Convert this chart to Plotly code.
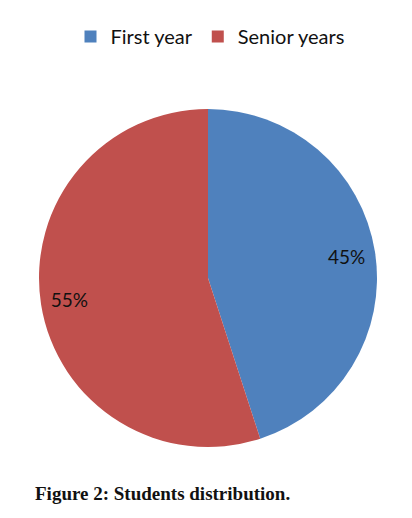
import plotly.graph_objects as go

labels = ["First year", "Senior years"]
values = [45, 55]
colors = ["#4F81BD", "#C0504D"]

# the page body adds an 8px margin, so the figure is 8px smaller and offsets are shifted
OFF = 8
W, H = 412 - OFF, 518 - OFF

pie_dom = dict(x=[(37 - OFF) / W, (379 - OFF) / W], y=[1 - (447 - OFF) / H, 1 - (109 - OFF) / H])
sans = "Lato, Open Sans, Liberation Sans, sans-serif"

fig = go.Figure()

# the coloured slices (no text)
fig.add_trace(
    go.Pie(
        labels=labels,
        values=values,
        sort=False,
        direction="clockwise",
        rotation=0,
        marker=dict(colors=colors, line=dict(width=0)),
        textinfo="none",
        domain=pie_dom,
        hoverinfo="label+percent",
    )
)

# transparent ring on top, only to push the percent labels towards the rim
fig.add_trace(
    go.Pie(
        labels=labels,
        values=values,
        sort=False,
        direction="clockwise",
        rotation=0,
        hole=0.66,
        marker=dict(colors=["rgba(0,0,0,0)", "rgba(0,0,0,0)"], line=dict(width=0)),
        texttemplate="%{percent:.0%}",
        textposition="inside",
        insidetextorientation="horizontal",
        textfont=dict(family=sans, size=19, color="#111111"),
        domain=pie_dom,
        showlegend=False,
        hoverinfo="skip",
    )
)

fig.update_layout(
    width=W,
    height=H,
    margin=dict(l=0, r=0, t=0, b=0),
    paper_bgcolor="white",
    plot_bgcolor="white",
    showlegend=True,
    legend=dict(
        orientation="h",
        x=0.5,
        xanchor="center",
        y=1 - 9 / H,
        yanchor="top",
        font=dict(family=sans, size=20, color="#111111"),
        itemwidth=30,
    ),
    annotations=[
        dict(
            text="<b>Figure 2: Students distribution.</b>",
            x=(33 - OFF) / W,
            y=1 - (493 - OFF) / H,
            xref="paper",
            yref="paper",
            xanchor="left",
            yanchor="middle",
            showarrow=False,
            font=dict(family="Liberation Serif, serif", size=19, color="#111111"),
        )
    ],
)

fig.write_html("out.html")
